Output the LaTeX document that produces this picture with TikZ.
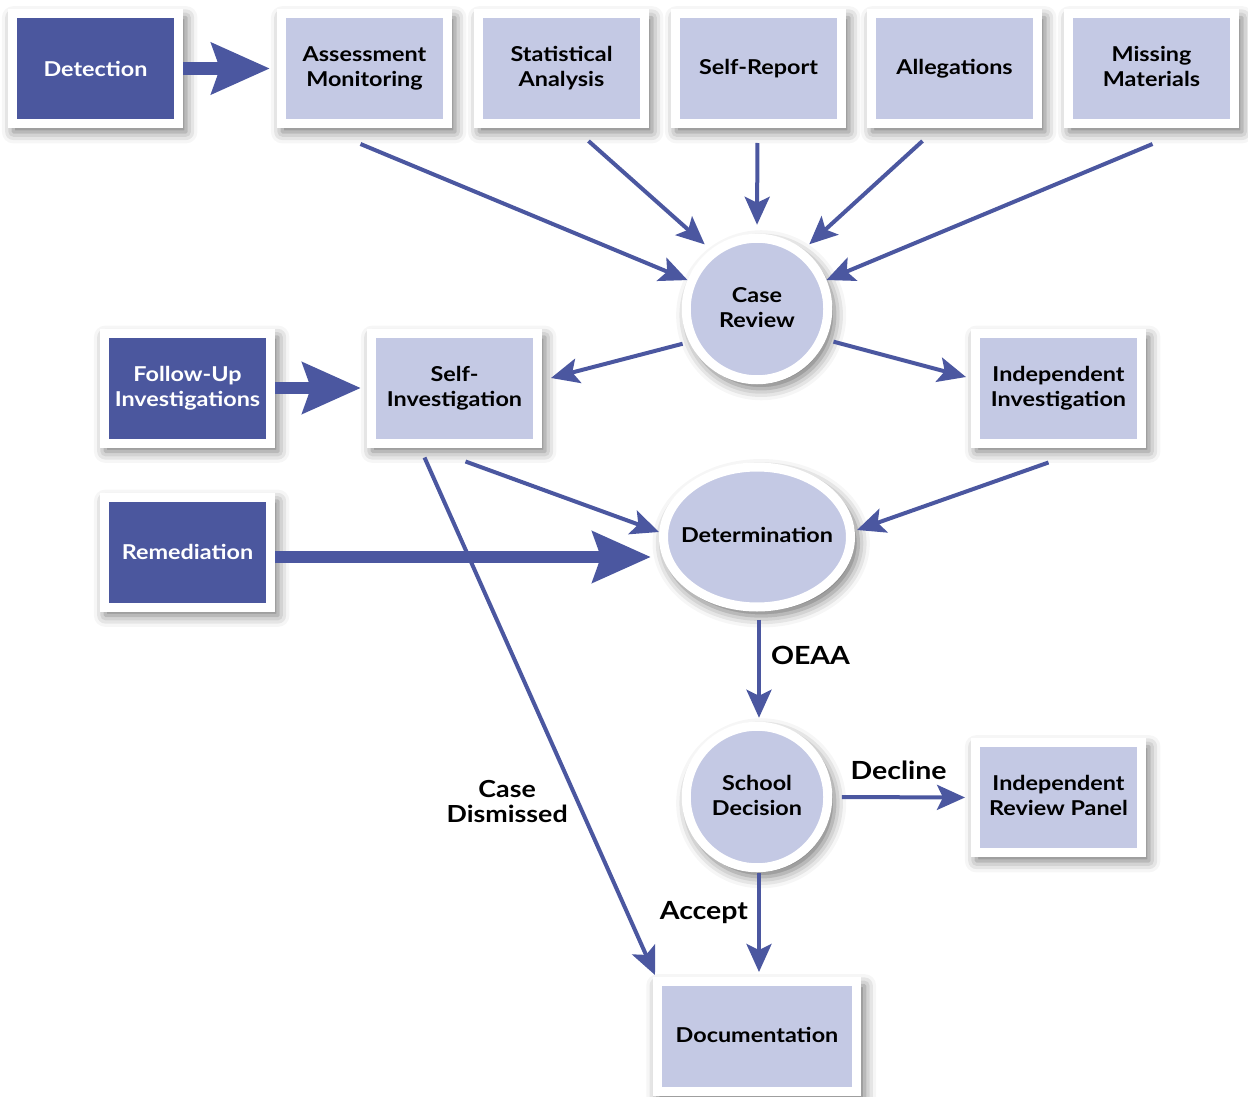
\documentclass[tikz,border=0pt]{standalone}
\usepackage{fontspec}
\setmainfont{Lato}[FakeStretch=1.14]
\usetikzlibrary{arrows.meta,shapes.geometric,shadows.blur,calc}
\definecolor{darkfill}{HTML}{4B579E}
\definecolor{lightfill}{HTML}{C4C9E4}
\definecolor{arrowc}{HTML}{4B57A0}
\newcommand{\dph}{\vphantom{g}}
\tikzset{
  shad/.style={blur shadow={shadow xshift=4pt,shadow yshift=-6pt,shadow scale=1.04,shadow blur radius=11pt,shadow opacity=55}},
  lbox/.style={rectangle,shad,fill=lightfill,draw=white,line width=9pt,minimum width=166pt,minimum height=110pt,inner sep=0pt,align=center,text=black,font=\fontsize{20.5}{25}\selectfont\bfseries},
  dbox/.style={lbox,fill=darkfill,text=white},
  lcirc/.style={circle,shad,fill=lightfill,draw=white,line width=9pt,minimum size=141.5pt,inner sep=0pt,align=center,font=\fontsize{20.5}{25}\selectfont\bfseries},
  lell/.style={ellipse,shad,fill=lightfill,draw=white,line width=9pt,minimum width=187pt,minimum height=140pt,inner sep=0pt,font=\fontsize{20.5}{25}\selectfont\bfseries},
  conn/.style={draw=arrowc,line width=4pt,-{Stealth[length=28pt,width=25pt,inset=6pt]}},
  fat/.style={draw=arrowc,line width=12.5pt,-{Stealth[length=58pt,width=50pt,inset=8pt]}},
  lab/.style={inner sep=0pt,text=black,align=center,font=\fontsize{25}{25}\selectfont\bfseries},
}
\begin{document}
\begin{tikzpicture}[x=1pt,y=-1pt]
\useasboundingbox (0,0) rectangle (1248,1097);
% top row
\node[dbox] (det) at (95.5,68.5) {Detection};
\node[lbox] (am) at (364.5,68.5) {Assessment\\Monitoring};
\node[lbox] (sa) at (561.5,68.5) {Statistical\\Analysis};
\node[lbox] (sr) at (758.5,68.5) {Self-Report};
\node[lbox] (al) at (954.5,68.5) {Allegations};
\node[lbox] (mm) at (1151.5,68.5) {Missing\\Materials\dph};
% middle
\node[lcirc] (cr) at (757,309) {Case\\Review\dph};
\node[dbox] (fu) at (187.5,388) {Follow-Up\\Investigations};
\node[lbox] (si) at (454.5,388) {Self-\\Investigation};
\node[lbox] (ii) at (1058.5,388) {Independent\\Investigation};
\node[lell] (detm) at (757,537) {\makebox[0pt]{Determination\dph}};
\node[dbox] (rem) at (187.5,552) {Remediation};
\node[lcirc] (sd) at (757,797) {School\\Decision\dph};
\node[lbox] (irp) at (1058.5,797.5) {Independent\\Review Panel\dph};
\node[lbox,minimum width=199pt] (doc) at (757,1036.5) {Documentation\dph};
% thick arrows
\draw[fat,shorten >=7pt] (det) -- (am);
\draw[fat,shorten >=6pt] (fu) -- (si);
\draw[fat,shorten >=8pt] ([yshift=-5pt]rem.east) -- ([yshift=-5pt]rem.east -| detm.west);
% into case review
\draw[conn] ([xshift=-4pt,yshift=-16pt]am.south) -- (cr);
\draw[conn,shorten >=8pt] ([xshift=27pt,yshift=-13pt]sa.south) -- (cr.128);
\draw[conn,shorten <=15pt,shorten >=9pt] ([xshift=-1pt]sr.south) -- (cr.north);
\draw[conn,shorten >=8pt] ([xshift=-32pt,yshift=-13pt]al.south) -- (cr.52);
\draw[conn] ([xshift=1pt,yshift=-16pt]mm.south) -- (cr);
% out of case review
\draw[conn,shorten <=7pt] (cr.206) -- ([xshift=9pt,yshift=10pt]si.east);
\draw[conn,shorten <=8pt] (cr.336) -- ([xshift=-5pt,yshift=11pt]ii.west);
% into determination
\draw[conn] ([xshift=11pt,yshift=-14pt]si.south) -- ([yshift=5pt]detm.west);
\draw[conn] ([xshift=-10pt,yshift=-15pt]ii.south) -- ([xshift=2pt,yshift=7pt]detm.east);
% case dismissed
\draw[conn] ([xshift=-30pt,yshift=-10pt]si.south) -- ([xshift=2pt,yshift=2pt]doc.north west)
  node[lab,pos=0.66,left=7pt,yshift=-2pt,font=\fontsize{23.5}{25}\selectfont\bfseries] (cdl) {Case\\Dismissed};
% lower chain
\draw[conn,shorten <=8pt,shorten >=4pt] ([xshift=2pt]detm.south) -- ([xshift=2pt]sd.north)
  node[lab,pos=0.4,right=10pt] (oeaa) {OEAA};
\draw[conn,shorten <=9.5pt,shorten >=6pt] (sd.east) -- (irp.west)
  node[lab,midway,above=16pt,xshift=-3pt] (decl) {Decline};
\draw[conn,shorten <=1pt,shorten >=5pt] ([xshift=2pt]sd.south) -- ([xshift=2pt]doc.north)
  node[lab,pos=0.37,left=9pt,yshift=-2pt] (acc) {Accept};
\end{tikzpicture}
\end{document}
